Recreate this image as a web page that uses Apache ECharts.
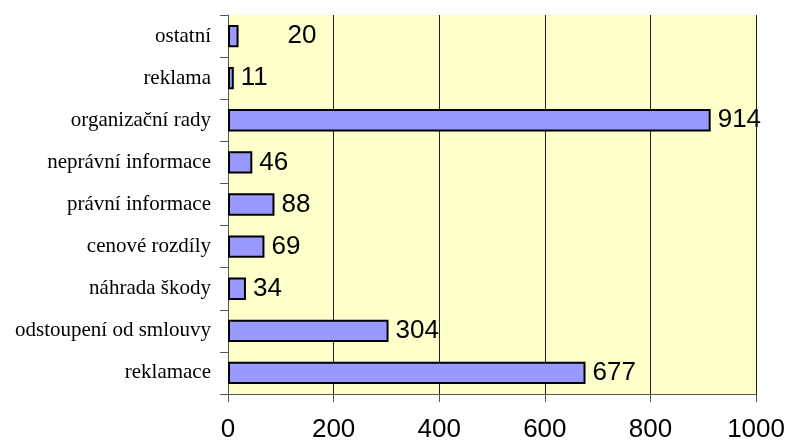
<!DOCTYPE html>
<html><head><meta charset="utf-8">
<script src="https://cdn.jsdelivr.net/npm/echarts@6/dist/echarts.min.js"></script>
<style>html,body{margin:0;padding:0;background:#fff}#c{width:788px;height:443px}</style>
</head><body><div id="c"></div>
<script>
const categories = ["reklamace","odstoupení od smlouvy","náhrada škody","cenové rozdíly","právní informace","neprávní informace","organizační rady","reklama","ostatní"];
const values = [677,304,34,69,88,46,914,11,20];
const xTicks = [0,200,400,600,800,1000];

const chart = echarts.init(document.getElementById('c'), null, {renderer:'canvas'});
const data = values.map((v,i)=> categories[i]==="ostatní" ? {value:v,label:{offset:[42,0]}} : v);
chart.setOption({
  animation:false,
  grid:{left:228,right:31,top:15,bottom:48,show:true,backgroundColor:'#FFFFCC',borderWidth:0},
  xAxis:{type:'value',min:xTicks[0],max:xTicks[xTicks.length-1],interval:200,
    axisLine:{show:true,lineStyle:{color:'#555',width:1}},
    axisTick:{show:true,length:8,lineStyle:{color:'#555'}},
    axisLabel:{margin:23,fontFamily:'Liberation Sans, Arial',fontSize:26,color:'#000',formatter:v=>String(v)},
    splitLine:{show:true,lineStyle:{color:'#222',width:1}}},
  yAxis:{type:'category',data:categories,
    axisLine:{show:true,lineStyle:{color:'#555',width:1}},
    axisTick:{show:true,length:8,alignWithLabel:false,lineStyle:{color:'#555'}},
    axisLabel:{margin:17,fontFamily:'Liberation Serif, Times New Roman',fontSize:21,color:'#000'}},
  series:[{type:'bar',data:data,barWidth:'53%',
    itemStyle:{color:'#9999FF',borderColor:'#000',borderWidth:2},
    label:{show:true,position:'right',distance:7,fontFamily:'Liberation Sans, Arial',fontSize:26,color:'#000'}}]
});
</script></body></html>
